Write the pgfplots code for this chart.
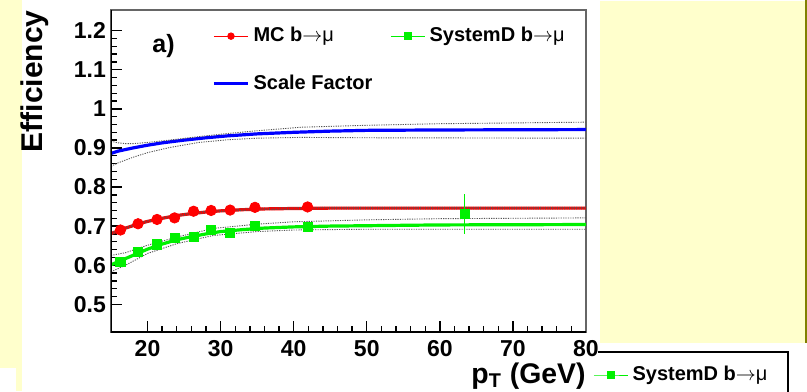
\documentclass[border=0pt]{standalone}
\usepackage{fontspec}
\setmainfont{Liberation Sans}
\usepackage{pgfplots}
\pgfplotsset{compat=1.18}
\definecolor{bgy}{HTML}{FFFFCC}
\definecolor{oliveline}{HTML}{808000}
\definecolor{rootred}{HTML}{FF0000}
\definecolor{rootgreen}{HTML}{00F000}
\definecolor{rootblue}{HTML}{0000FF}
\definecolor{dotgray}{HTML}{555555}
\tikzset{bandline/.style={dotgray, line width=0.45pt, dash pattern=on 0.6pt off 0.6pt}}
\newcommand{\bmu}{{\mdseries$\rightarrow$μ}}
\begin{document}
\begin{tikzpicture}[x=0.5pt,y=0.5pt]
\useasboundingbox (0,0) rectangle (807,391);
\clip (0,0) rectangle (807,391);
\fill[white] (0,0) rectangle (807,391);
\fill[bgy] (0,0) rectangle (22,391);
\fill[white] (0,0) rectangle (16,23);
\fill[bgy] (600,48) rectangle (805,390);
\fill[oliveline] (805,48) rectangle (807,391);
\draw[black, line width=0.6pt] (598,39) -- (788,39) -- (788,-5);

\begin{axis}[
  at={(55.5pt,29.5pt)}, anchor=south west,
  scale only axis, width=237.5pt, height=161pt,
  xmin=15, xmax=80, ymin=0.429, ymax=1.253,
  xtick={20,30,40,50,60,70,80},
  ytick={0.5,0.6,0.7,0.8,0.9,1,1.1,1.2},
  yticklabels={0.5,0.6,0.7,0.8,0.9,1,1.1,1.2},
  minor x tick num=4, minor y tick num=4,
  tick pos=left, tick align=inside,
  major tick length=5.5pt, minor tick length=3pt,
  tick style={black, line width=0.7pt},
  axis line style={draw=gray!80!black, line width=0.6pt},
  tick label style={font=\fontsize{11.5}{13}\selectfont\bfseries},
  /pgf/number format/assume math mode=true,
  xticklabel style={yshift=-0.5pt},
  yticklabel style={xshift=1pt},
  ylabel={Efficiency},
  ylabel style={at={(axis description cs:-0.131,1)}, anchor=south east, rotate=0, inner sep=0pt, font=\fontsize{15}{16}\selectfont\bfseries},
  xlabel={p$_{\mathrm{\bf T}}$ (GeV)},
  xlabel style={at={(axis description cs:1,-0.094)}, anchor=north east, inner sep=0pt, font=\fontsize{14.2}{16}\selectfont\bfseries},
  legend columns=2,
  legend cell align=left,
  legend style={draw=none, fill=none, at={(axis description cs:0.2,0.972)}, anchor=north west,
    font=\fontsize{10}{12}\selectfont\bfseries, row sep=11pt,
    /tikz/every even column/.append style={column sep=7pt}},
  clip=true,
]
% legend images
\addlegendimage{rootred, line width=0.5pt, mark=*, mark size=1.6pt}
\addlegendentry{MC b\bmu}
\addlegendimage{rootgreen, line width=0.5pt, mark=square*, mark size=1.6pt}
\addlegendentry{SystemD b\bmu}
\addlegendimage{rootblue, line width=1.5pt}
\addlegendentry{Scale Factor}

% Scale factor fit and band
\addplot[rootblue, line width=1.6pt, forget plot] coordinates {
(15,0.886) (16,0.892) (18,0.900) (20,0.907) (22,0.913) (25,0.920) (28,0.926)
(31,0.931) (35,0.936) (40,0.940) (45,0.943) (50,0.945) (60,0.946) (80,0.947)};
\addplot[bandline, forget plot] coordinates {
(15,0.917) (16,0.913) (17,0.911) (18,0.911) (20,0.914) (23,0.920) (27,0.929)
(31,0.937) (35,0.944) (41,0.953) (50,0.958) (60,0.962) (80,0.966)};
\addplot[bandline, forget plot] coordinates {
(15,0.853) (16,0.862) (18,0.876) (20,0.888) (23,0.901) (27,0.914) (31,0.921)
(35,0.925) (41,0.927) (50,0.926) (80,0.925)};

% MC fit
\addplot[rootred, line width=1.6pt, forget plot] coordinates {
(15,0.681) (16,0.688) (17,0.695) (18,0.701) (19,0.707) (20,0.712) (22,0.720)
(24,0.727) (26,0.732) (28,0.736) (30,0.739) (33,0.742) (36,0.744) (40,0.745)
(45,0.746) (50,0.746) (60,0.746) (80,0.746)};
\addplot[bandline, forget plot] coordinates {
(15,0.683) (16,0.690) (17,0.697) (18,0.703) (19,0.709) (20,0.714) (22,0.722)
(24,0.729) (26,0.734) (28,0.738) (30,0.741) (33,0.744) (36,0.746) (40,0.747)
(45,0.748) (50,0.748) (60,0.748) (80,0.748)};
\addplot[bandline, forget plot] coordinates {
(15,0.679) (16,0.686) (17,0.693) (18,0.699) (19,0.705) (20,0.710) (22,0.718)
(24,0.725) (26,0.730) (28,0.734) (30,0.737) (33,0.740) (36,0.742) (40,0.743)
(45,0.744) (50,0.744) (60,0.744) (80,0.744)};

% SystemD fit and band
\addplot[rootgreen, line width=1.6pt, forget plot] coordinates {
(15,0.601) (16,0.609) (17,0.617) (18,0.625) (19,0.633) (20,0.641) (22,0.654)
(24,0.665) (26,0.673) (28,0.680) (30,0.686) (33,0.691) (36,0.695) (40,0.698)
(45,0.700) (50,0.701) (60,0.703) (80,0.704)};
\addplot[bandline, forget plot] coordinates {
(15,0.625) (17,0.632) (20,0.651) (24,0.672) (29,0.694) (35,0.705) (40,0.711)
(50,0.716) (60,0.719) (80,0.721)};
\addplot[bandline, forget plot] coordinates {
(15,0.583) (17,0.600) (20,0.630) (24,0.655) (29,0.676) (35,0.686) (40,0.690)
(50,0.692) (80,0.692)};

% MC points
\addplot[rootred, only marks, mark=*, mark size=2.6pt, forget plot,
  error bars/.cd, y dir=both, y explicit, error bar style={rootred, line width=0.6pt}, error mark=none]
  coordinates {
(16.3,0.690) +- (0,0.006) (18.7,0.706) +- (0,0.006) (21.3,0.717) +- (0,0.006)
(23.7,0.721) +- (0,0.006) (26.3,0.738) +- (0,0.006) (28.7,0.740) +- (0,0.006)
(31.3,0.741) +- (0,0.006) (34.7,0.748) +- (0,0.007) (41.9,0.749) +- (0,0.007)};

% SystemD points
\addplot[rootgreen, only marks, mark=square*, mark size=2.3pt, forget plot,
  error bars/.cd, y dir=both, y explicit, error bar style={rootgreen, line width=0.6pt}, error mark=none]
  coordinates {
(16.3,0.608) +- (0,0.012) (18.7,0.634) +- (0,0.011) (21.3,0.653) +- (0,0.010)
(23.7,0.670) +- (0,0.010) (26.3,0.673) +- (0,0.011) (28.7,0.690) +- (0,0.011)
(31.3,0.683) +- (0,0.011) (34.7,0.700) +- (0,0.012) (41.9,0.698) +- (0,0.008)
(63.4,0.731) +- (0,0.050)};

\draw[black, line width=0.9pt] (axis description cs:0,1) -- (axis description cs:0,0) -- (axis description cs:1,0);
\node[font=\fontsize{12.5}{14}\selectfont\bfseries] at (axis cs:22.2,1.162) {a)};
\end{axis}

% stray legend bottom right
\begin{axis}[
  at={(296.5pt,8pt)}, anchor=south west, scale only axis, width=1pt, height=1pt,
  hide axis, xmin=0, xmax=1, ymin=0, ymax=1,
  legend style={draw=none, fill=none, at={(axis description cs:0,0)}, anchor=west,
    font=\fontsize{10}{12}\selectfont\bfseries, inner sep=0pt},
]
\addlegendimage{rootgreen, line width=0.5pt, mark=square*, mark size=1.6pt}
\addlegendentry{SystemD b\bmu}
\end{axis}
\end{tikzpicture}
\end{document}
